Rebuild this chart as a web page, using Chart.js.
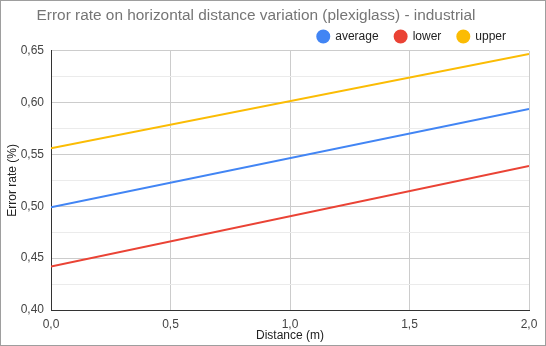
<!DOCTYPE html>
<html>
<head>
<meta charset="utf-8">
<script src="https://cdn.jsdelivr.net/npm/chart.js@4"></script>
<style>
  html, body { margin: 0; padding: 0; background: #fff; }
  #wrap { width: 546px; height: 346px; box-sizing: border-box; border: 1px solid #9e9e9e; }
  canvas { display: block; }
</style>
</head>
<body>
<div id="wrap"><canvas id="errChart" width="544" height="344"></canvas></div>
<script>
var distance = [0, 2];
var average = [0.499, 0.594];
var lower = [0.442, 0.539];
var upper = [0.556, 0.647];

var seriesNames = ['average', 'lower', 'upper'];
var seriesColors = ['#4285F4', '#EA4335', '#FBBC04'];
var seriesValues = [average, lower, upper];

function toPoints(vals) {
    return distance.map(function (d, i) { return {x: d, y: vals[i]}; });
}

var fontFamily = '"Liberation Sans", Arial, sans-serif';

// legend: fixed height, and nudge legend/title after layout
var layoutTweak = {
    id: 'layoutTweak',
    beforeInit: function (chart) {
        var fit = chart.legend.fit;
        chart.legend.fit = function () {
            fit.bind(chart.legend)();
            this.height = 25.4;
        };
    },
    afterLayout: function (chart) {
        var lg = chart.legend;
        lg.top -= 11;
        lg.left -= 7; lg.right -= 7;
        var tb = chart.titleBlock;
        tb.left -= 9; tb.right -= 9;
    }
};

var ctx = document.getElementById('errChart').getContext('2d');
var myChart = new Chart(ctx, {
    type: 'line',
    data: {
        datasets: seriesNames.map(function (name, i) {
            return {
                label: name,
                data: toPoints(seriesValues[i]),
                borderColor: seriesColors[i],
                backgroundColor: seriesColors[i],
                borderWidth: 2,
                pointRadius: 0,
                fill: false
            };
        })
    },
    plugins: [layoutTweak],
    options: {
        responsive: false,
        animation: false,
        layout: { padding: { left: 0, right: 16, top: 0, bottom: 0 } },
        plugins: {
            title: {
                display: true,
                text: 'Error rate on horizontal distance variation (plexiglass) - industrial',
                color: '#757575',
                font: { family: fontFamily, size: 15.4, weight: 'normal', lineHeight: 1.2 },
                padding: { top: 6, bottom: 0 }
            },
            legend: {
                position: 'top',
                align: 'end',
                labels: {
                    usePointStyle: true,
                    pointStyle: 'circle',
                    boxWidth: 12,
                    boxHeight: 8.5,
                    padding: 16,
                    color: '#222',
                    font: { family: fontFamily, size: 12 }
                }
            },
            tooltip: { enabled: false }
        },
        scales: {
            x: {
                type: 'linear',
                min: 0,
                max: 2,
                ticks: {
                    stepSize: 0.5,
                    padding: 7,
                    color: '#444',
                    font: { family: fontFamily, size: 12 },
                    callback: function (v) { return v.toFixed(1).replace('.', ','); }
                },
                grid: { color: '#cccccc', drawTicks: false },
                border: { color: '#333333' },
                title: {
                    display: true,
                    text: 'Distance (m)',
                    color: '#222',
                    font: { family: fontFamily, size: 12 },
                    padding: { top: 0, bottom: 2 }
                },
                afterFit: function (scale) { scale.height = 35; }
            },
            y: {
                min: 0.40,
                max: 0.65,
                ticks: {
                    stepSize: 0.025,
                    padding: 7,
                    color: '#444',
                    autoSkip: false,
                    font: { family: fontFamily, size: 12 },
                    callback: function (v) {
                        var k = Math.round(v * 1000);
                        return k % 50 === 0 ? v.toFixed(2).replace('.', ',') : '';
                    }
                },
                grid: {
                    drawTicks: false,
                    color: function (c) {
                        var k = Math.round(c.tick.value * 1000);
                        return k % 50 === 0 ? '#cccccc' : '#ebebeb';
                    }
                },
                border: { color: '#333333' },
                title: {
                    display: true,
                    text: 'Error rate (%)',
                    color: '#222',
                    font: { family: fontFamily, size: 12 },
                    padding: { top: 4, bottom: 0 }
                },
                afterFit: function (scale) { scale.width = 50; }
            }
        }
    }
});
</script>
</body>
</html>
